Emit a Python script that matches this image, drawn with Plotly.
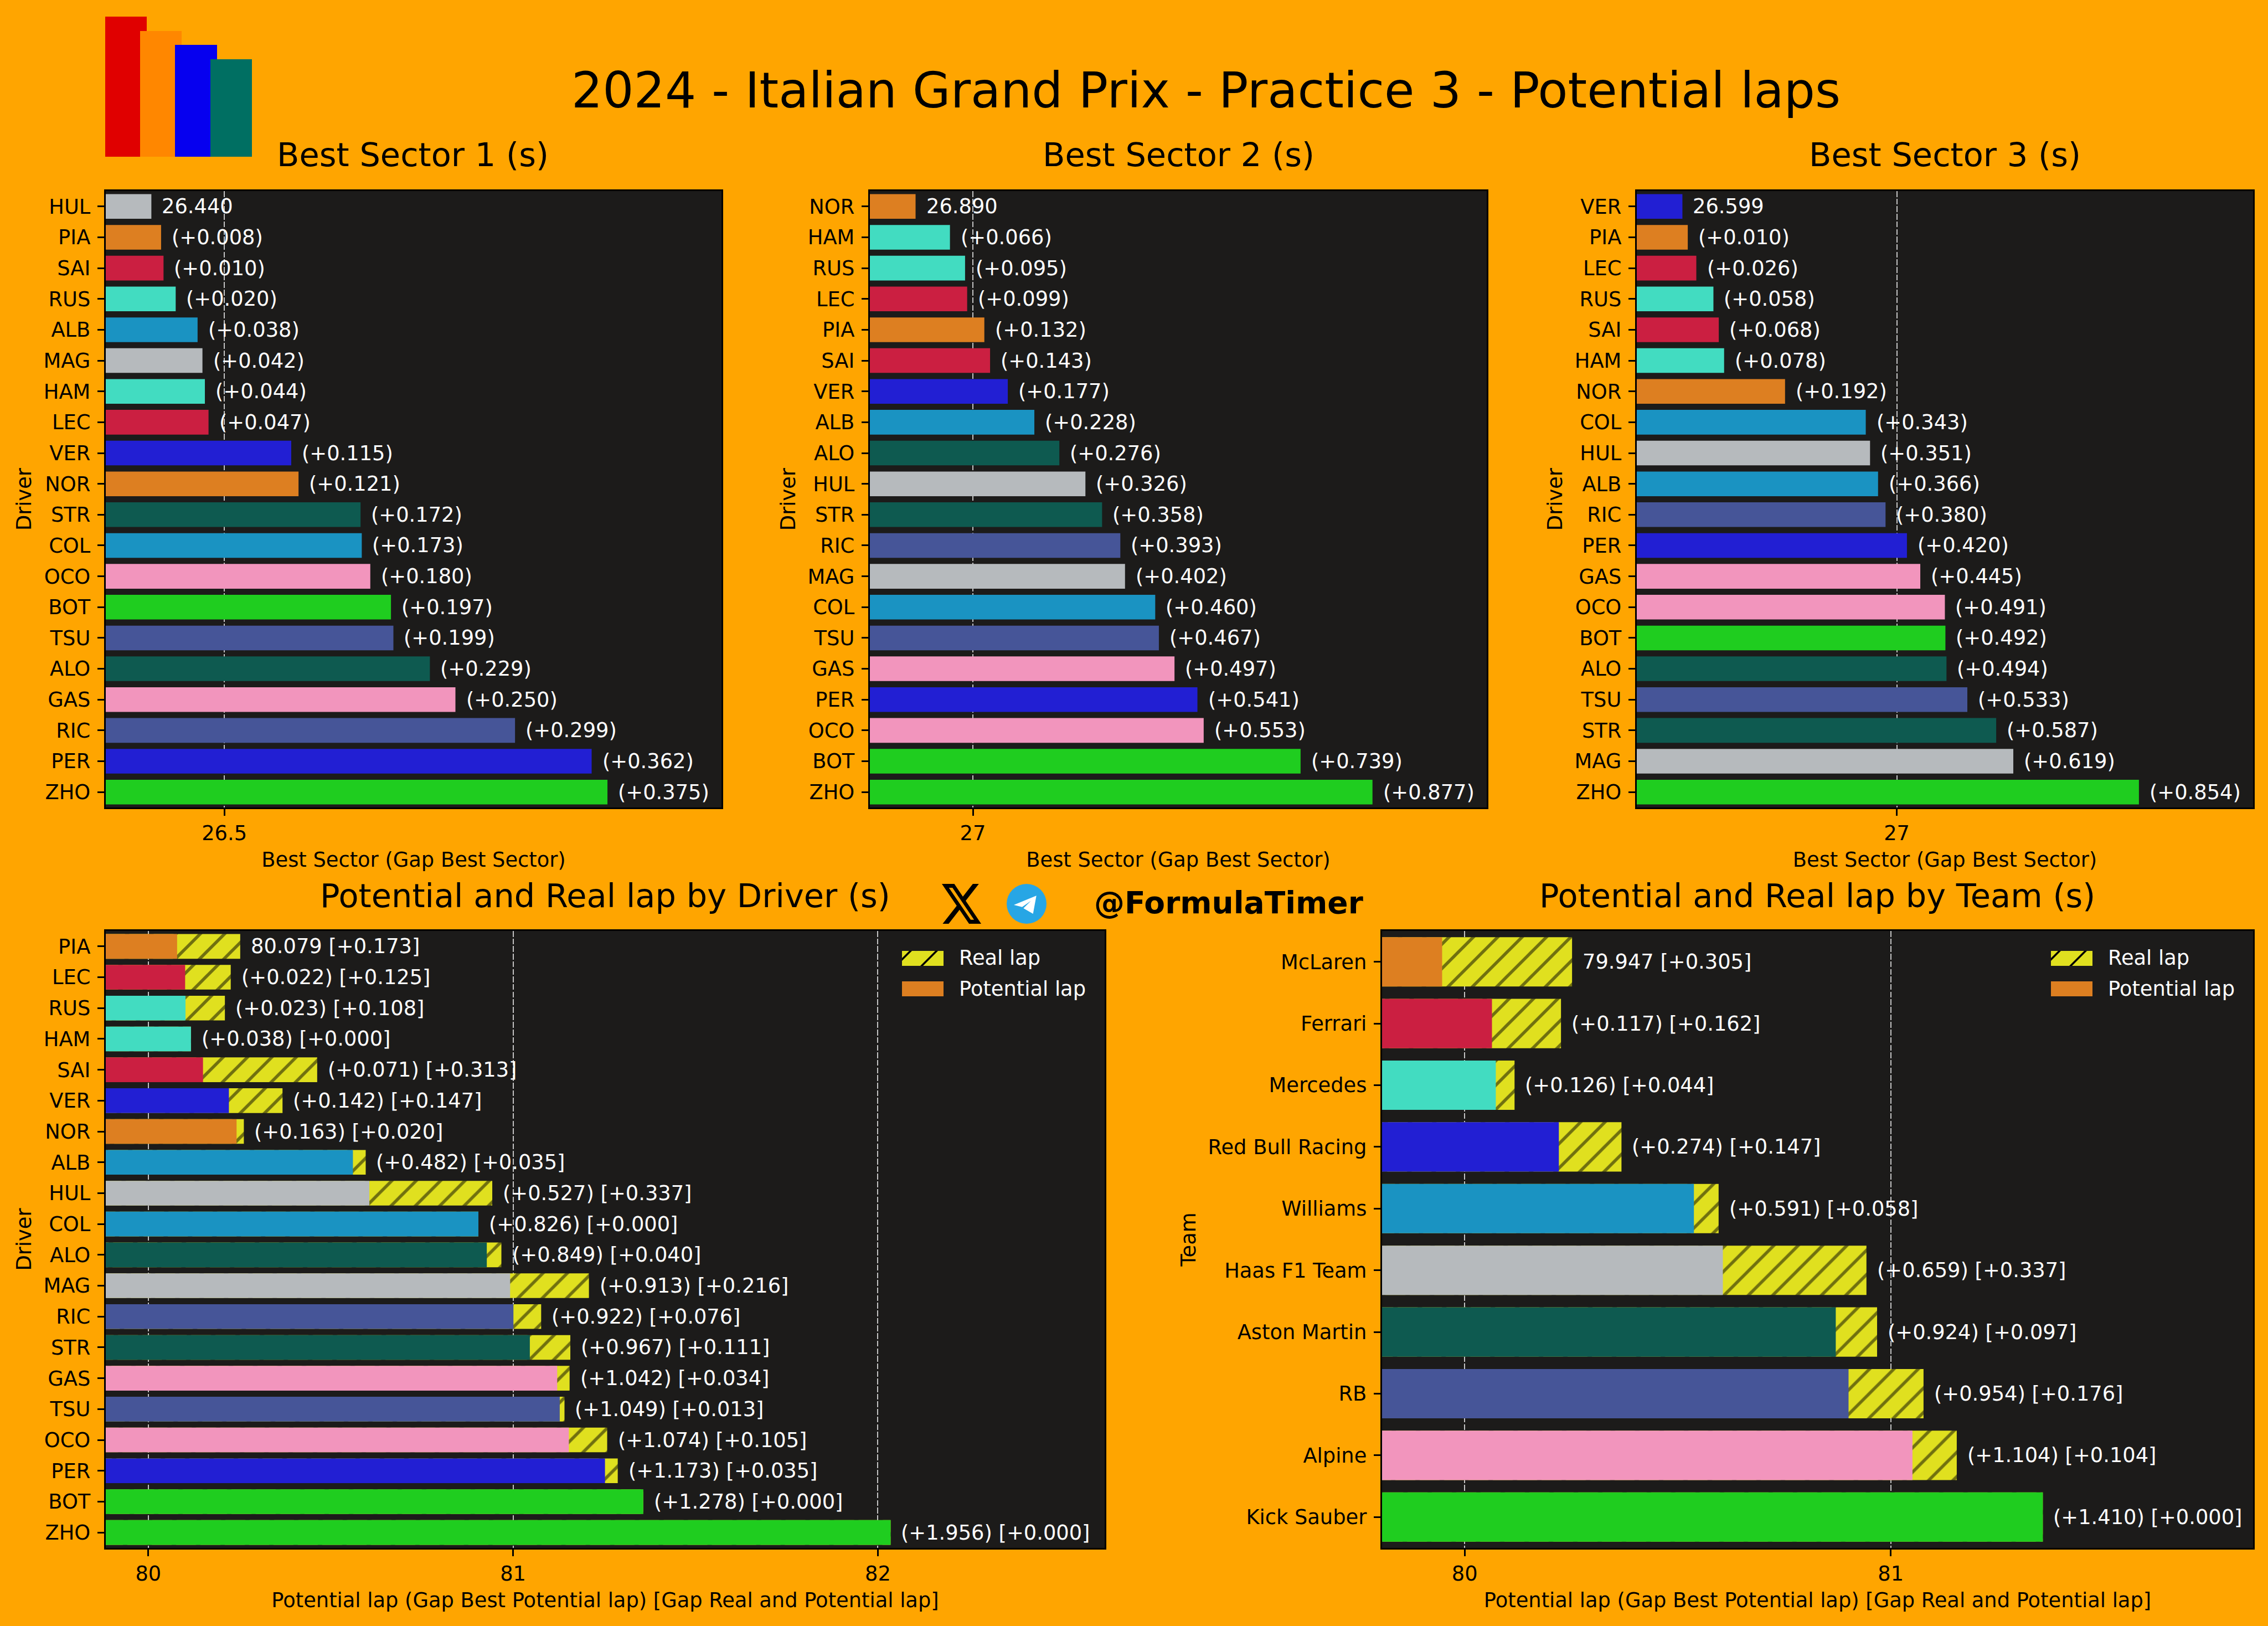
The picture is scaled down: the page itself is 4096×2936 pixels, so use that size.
import plotly.graph_objects as go

W, H = 4096, 2936
FONT = "DejaVu Sans"
BASE = 36.8
TITLE = 59

# Team colours
team_colors = {
    "McLaren": "#dd7f21", "Ferrari": "#cb1f41", "Mercedes": "#42dcc1",
    "Red Bull Racing": "#221fd3", "Williams": "#1a93c2", "Haas F1 Team": "#b6babd",
    "Aston Martin": "#0e5a50", "RB": "#465598", "Alpine": "#f295bd", "Kick Sauber": "#1fcd1f",
}
driver_team = {
    "PIA": "McLaren", "NOR": "McLaren", "LEC": "Ferrari", "SAI": "Ferrari",
    "RUS": "Mercedes", "HAM": "Mercedes", "VER": "Red Bull Racing", "PER": "Red Bull Racing",
    "ALB": "Williams", "COL": "Williams", "HUL": "Haas F1 Team", "MAG": "Haas F1 Team",
    "ALO": "Aston Martin", "STR": "Aston Martin", "RIC": "RB", "TSU": "RB",
    "GAS": "Alpine", "OCO": "Alpine", "BOT": "Kick Sauber", "ZHO": "Kick Sauber",
}
REAL_COLOR = "#e0e01f"

# Best sectors
s1_drivers = ["HUL", "PIA", "SAI", "RUS", "ALB", "MAG", "HAM", "LEC", "VER", "NOR",
              "STR", "COL", "OCO", "BOT", "TSU", "ALO", "GAS", "RIC", "PER", "ZHO"]
s1_best = 26.440
s1_gaps = [0, 0.008, 0.010, 0.020, 0.038, 0.042, 0.044, 0.047, 0.115, 0.121,
           0.172, 0.173, 0.180, 0.197, 0.199, 0.229, 0.250, 0.299, 0.362, 0.375]

s2_drivers = ["NOR", "HAM", "RUS", "LEC", "PIA", "SAI", "VER", "ALB", "ALO", "HUL",
              "STR", "RIC", "MAG", "COL", "TSU", "GAS", "PER", "OCO", "BOT", "ZHO"]
s2_best = 26.890
s2_gaps = [0, 0.066, 0.095, 0.099, 0.132, 0.143, 0.177, 0.228, 0.276, 0.326,
           0.358, 0.393, 0.402, 0.460, 0.467, 0.497, 0.541, 0.553, 0.739, 0.877]

s3_drivers = ["VER", "PIA", "LEC", "RUS", "SAI", "HAM", "NOR", "COL", "HUL", "ALB",
              "RIC", "PER", "GAS", "OCO", "BOT", "ALO", "TSU", "STR", "MAG", "ZHO"]
s3_best = 26.599
s3_gaps = [0, 0.010, 0.026, 0.058, 0.068, 0.078, 0.192, 0.343, 0.351, 0.366,
           0.380, 0.420, 0.445, 0.491, 0.492, 0.494, 0.533, 0.587, 0.619, 0.854]

# Potential laps by driver
lap_drivers = ["PIA", "LEC", "RUS", "HAM", "SAI", "VER", "NOR", "ALB", "HUL", "COL",
               "ALO", "MAG", "RIC", "STR", "GAS", "TSU", "OCO", "PER", "BOT", "ZHO"]
lap_best = 80.079
lap_gaps = [0, 0.022, 0.023, 0.038, 0.071, 0.142, 0.163, 0.482, 0.527, 0.826,
            0.849, 0.913, 0.922, 0.967, 1.042, 1.049, 1.074, 1.173, 1.278, 1.956]
lap_real = [0.173, 0.125, 0.108, 0.000, 0.313, 0.147, 0.020, 0.035, 0.337, 0.000,
            0.040, 0.216, 0.076, 0.111, 0.034, 0.013, 0.105, 0.035, 0.000, 0.000]

# Potential laps by team
teams = ["McLaren", "Ferrari", "Mercedes", "Red Bull Racing", "Williams",
         "Haas F1 Team", "Aston Martin", "RB", "Alpine", "Kick Sauber"]
team_best = 79.947
team_gaps = [0, 0.117, 0.126, 0.274, 0.591, 0.659, 0.924, 0.954, 1.104, 1.410]
team_real = [0.305, 0.162, 0.044, 0.147, 0.058, 0.337, 0.097, 0.176, 0.104, 0.000]

s1_ticks = [26.5]
s2_ticks = [27]
s3_ticks = [27]
lap_ticks = [80, 81, 82]
team_ticks = [80, 81]

# panel boxes in pixels: left, right, top, bottom
boxes = [(191, 1303, 345, 1458), (1571, 2685, 345, 1458), (2956, 4069, 345, 1458),
         (191, 1995, 1681, 2795), (2496, 4069, 1681, 2795)]


def px_x(v):
    return v / W


def px_y(v):
    return 1 - v / H


fig = go.Figure()
annotations = []
shapes = []


def axis_setup(i, names, low, high, ticks, xlabel, ylabel):
    left, right, top, bottom = boxes[i - 1]
    suffix = "" if i == 1 else str(i)
    fig.layout["xaxis" + suffix] = dict(
        domain=[px_x(left), px_x(right)], anchor="y" + suffix, range=[low, high],
        tickmode="array", tickvals=ticks, ticktext=[str(t) for t in ticks],
        ticks="outside", ticklen=12.4, tickwidth=2.8, tickcolor="black",
        showgrid=True, gridcolor="#c4c4c4", gridwidth=2, griddash="10.5px,3.2px",
        zeroline=False, showline=True, mirror=True, linecolor="black", linewidth=2.8,
        title=dict(text=xlabel, standoff=14, font=dict(size=BASE, color="black")),
        tickfont=dict(size=BASE, color="black"),
    )
    fig.layout["yaxis" + suffix] = dict(
        domain=[px_y(bottom), px_y(top)], anchor="x" + suffix, type="category",
        categoryorder="array", categoryarray=names,
        range=[len(names) - 0.5, -0.5],
        ticks="outside", ticklen=12.4, tickwidth=2.8, tickcolor="black",
        ticklabelstandoff=5,
        showgrid=False, zeroline=False, showline=True, mirror=True,
        linecolor="black", linewidth=2.8,
        title=dict(text=ylabel, standoff=11, font=dict(size=BASE, color="black")),
        tickfont=dict(size=BASE, color="black"),
    )


def add_label(i, x, y, text):
    suffix = "" if i == 1 else str(i)
    annotations.append(dict(
        x=x, y=y, xref="x" + suffix, yref="y" + suffix, text=text, showarrow=False,
        xanchor="left", yanchor="middle", xshift=17, yshift=0,
        font=dict(size=BASE, color="white"),
    ))


def sector_panel(i, names, best, gaps, ticks):
    suffix = "" if i == 1 else str(i)
    values = [best + g for g in gaps]
    span = max(gaps)
    fig.add_trace(go.Bar(
        y=names, x=values, orientation="h", width=0.8, xaxis="x" + suffix, yaxis="y" + suffix,
        marker=dict(color=[team_colors[driver_team[n]] for n in names], line_width=0),
        showlegend=False,
    ))
    axis_setup(i, names, best - 0.1 * span, best + 1.25 * span, ticks,
               "Best Sector (Gap Best Sector)", "Driver")
    for n, v, g in zip(names, values, gaps):
        add_label(i, v, n, f"{best:.3f}" if g == 0 else f"(+{g:.3f})")


def lap_panel(i, names, colors, best, gaps, real, ticks, right_pad, ylabel):
    suffix = "" if i == 1 else str(i)
    potential = [best + g for g in gaps]
    total = [p + r for p, r in zip(potential, real)]
    span = max(gaps)
    fig.add_trace(go.Bar(
        y=names, x=total, orientation="h", width=0.8, name="Real lap",
        xaxis="x" + suffix, yaxis="y" + suffix, showlegend=False,
        marker=dict(color=REAL_COLOR, line_width=0,
                    pattern=dict(shape="/", bgcolor=REAL_COLOR, fgcolor="black",
                                 size=31.1, solidity=0.18)),
    ))
    fig.add_trace(go.Bar(
        y=names, x=potential, orientation="h", width=0.8, name="Potential lap",
        xaxis="x" + suffix, yaxis="y" + suffix, showlegend=False,
        marker=dict(color=colors, line_width=0),
    ))
    axis_setup(i, names, best - 0.1 * span, best + (1 + right_pad) * span, ticks,
               "Potential lap (Gap Best Potential lap) [Gap Real and Potential lap]", ylabel)
    for n, t, g, r in zip(names, total, gaps, real):
        head = f"{best:.3f}" if g == 0 else f"(+{g:.3f})"
        add_label(i, t, n, f"{head} [+{r:.3f}]")


def add_title(text, x, y, size, color="black", bold=False):
    annotations.append(dict(
        xref="paper", yref="paper", x=px_x(x), y=px_y(y), text=f"<b>{text}</b>" if bold else text,
        showarrow=False, xanchor="center", yanchor="middle",
        font=dict(size=size, color=color, family=FONT),
    ))


def rect(x0, x1, y0, y1, color):
    shapes.append(dict(type="rect", xref="paper", yref="paper", x0=px_x(x0), x1=px_x(x1),
                       y0=px_y(y0), y1=px_y(y1), fillcolor=color, line_width=0))


def poly(rings, color):
    d = ""
    for ring in rings:
        d += "M" + "L".join(f"{px_x(x):.5f},{px_y(y):.5f}" for x, y in ring) + "Z"
    shapes.append(dict(type="path", xref="paper", yref="paper", path=d, fillcolor=color, line_width=0))


def legend_box(x0, y0, y1):
    # hatched swatch, then plain swatch
    rect(x0, x0 + 75, y0, y0 + 27, REAL_COLOR)
    poly([[(x0, y0 + 13), (x0, y0 + 18), (x0 + 18, y0), (x0 + 13, y0)]], "black")
    poly([[(x0 + 33, y0 + 27), (x0 + 38, y0 + 27), (x0 + 65, y0), (x0 + 60, y0)]], "black")
    rect(x0, x0 + 75, y1, y1 + 27, team_colors["McLaren"])
    for y, text in ((y0 + 13, "Real lap"), (y1 + 13, "Potential lap")):
        annotations.append(dict(xref="paper", yref="paper", x=px_x(x0 + 101), y=px_y(y), text=text,
                                showarrow=False, xanchor="left", yanchor="middle",
                                font=dict(size=BASE, color="white")))


sector_panel(1, s1_drivers, s1_best, s1_gaps, s1_ticks)
sector_panel(2, s2_drivers, s2_best, s2_gaps, s2_ticks)
sector_panel(3, s3_drivers, s3_best, s3_gaps, s3_ticks)
lap_panel(4, lap_drivers, [team_colors[driver_team[n]] for n in lap_drivers],
          lap_best, lap_gaps, lap_real, lap_ticks, 0.3, "Driver")
lap_panel(5, teams, [team_colors[t] for t in teams],
          team_best, team_gaps, team_real, team_ticks, 0.35, "Team")

# titles
add_title("2024 - Italian Grand Prix - Practice 3 - Potential laps", 2178, 163, 88.5)
add_title("Best Sector 1 (s)", 745, 280, TITLE)
add_title("Best Sector 2 (s)", 2128, 280, TITLE)
add_title("Best Sector 3 (s)", 3512, 280, TITLE)
add_title("Potential and Real lap by Driver (s)", 1093, 1617, TITLE)
add_title("Potential and Real lap by Team (s)", 3282, 1617, TITLE)
add_title("@FormulaTimer", 2219, 1630, 55, bold=True)

# logo blocks
rect(190, 265, 30, 283, "#e00000")
rect(253, 328, 56, 283, "#ff8700")
rect(316, 392, 81, 283, "#0600ef")
rect(380, 455, 107, 283, "#006f62")


# X mark
def xmark(p):
    return [(1701 + (a - 1.254) * 71 / 21.573, 1596 + (b - 2.25) * 72 / 19.5) for a, b in p]


poly([xmark([(18.244, 2.25), (21.552, 2.25), (14.325, 10.51), (22.827, 21.75), (16.17, 21.75),
             (10.956, 14.933), (4.99, 21.75), (1.68, 21.75), (9.41, 12.915), (1.254, 2.25),
             (8.08, 2.25), (12.793, 8.481)]),
      xmark([(17.083, 19.77), (18.916, 19.77), (7.084, 4.126), (5.117, 4.126)])], "black")

# Telegram mark
shapes.append(dict(type="circle", xref="paper", yref="paper", x0=px_x(1818), x1=px_x(1890),
                   y0=px_y(1596), y1=px_y(1668), fillcolor="#27a6e5", line_width=0))
poly([[(1871.7, 1617.3), (1831, 1634), (1846, 1637.7), (1861.7, 1626.7), (1848.3, 1640), (1865.7, 1650)]], "white")

legend_box(1629, 1717, 1772)
legend_box(3704, 1717, 1772)

fig.update_layout(
    width=W, height=H, margin=dict(l=0, r=0, t=0, b=0),
    paper_bgcolor="#ffa500", plot_bgcolor="#1c1b1a",
    font=dict(family=FONT, size=BASE, color="black"),
    barmode="overlay", showlegend=False,
    annotations=annotations, shapes=shapes,
)

# the page has a default 8px body margin, drop it
fig.write_html("out.html", config={"displayModeBar": False},
               post_script="document.body.style.margin='0';")
